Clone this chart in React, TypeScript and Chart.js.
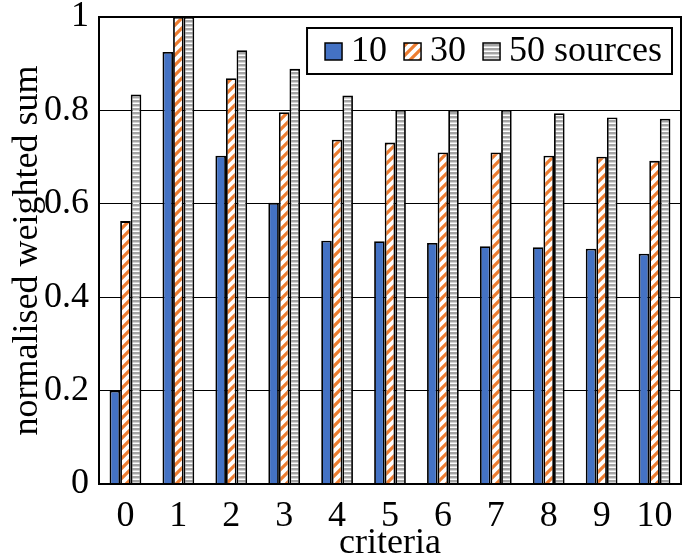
import React, { useEffect, useRef } from "react";
import { Chart, registerables } from "chart.js";

Chart.register(...registerables);

const categories = ["0", "1", "2", "3", "4", "5", "6", "7", "8", "9", "10"];
const seriesLabels = ["10", "30", "50 sources"];
const s10 = [0.2, 0.925, 0.703, 0.602, 0.521, 0.52, 0.516, 0.509, 0.507, 0.504, 0.493];
const s30 = [0.563, 1.0, 0.869, 0.796, 0.737, 0.731, 0.71, 0.71, 0.703, 0.701, 0.692];
const s50 = [0.834, 1.0, 0.929, 0.889, 0.832, 0.801, 0.801, 0.801, 0.794, 0.785, 0.782];
const yTickLabels = ["0", "0.2", "0.4", "0.6", "0.8", "1"];

const FONT = "'Liberation Serif', 'Times New Roman', serif";
const BLUE = "#4472C4";
const ORANGE = "#ED7D31";
const GRAY = "#A5A5A5";

function makeDiagonal(): CanvasPattern | string {
  const c = document.createElement("canvas");
  c.width = 10;
  c.height = 10;
  const g = c.getContext("2d");
  if (!g) return ORANGE;
  g.fillStyle = "#fff";
  g.fillRect(0, 0, 10, 10);
  g.strokeStyle = ORANGE;
  g.lineWidth = 3.2;
  g.lineCap = "square";
  for (const [x1, y1, x2, y2] of [
    [-5, 5, 5, -5],
    [0, 10, 10, 0],
    [5, 15, 15, 5],
  ]) {
    g.beginPath();
    g.moveTo(x1, y1);
    g.lineTo(x2, y2);
    g.stroke();
  }
  const p = g.createPattern(c, "repeat");
  return p || ORANGE;
}

function makeHorizontal(): CanvasPattern | string {
  const c = document.createElement("canvas");
  c.width = 4;
  c.height = 4;
  const g = c.getContext("2d");
  if (!g) return GRAY;
  g.fillStyle = "#fff";
  g.fillRect(0, 0, 4, 4);
  g.fillStyle = GRAY;
  g.fillRect(0, 0, 4, 2);
  g.fillStyle = "#D4D4D4";
  g.fillRect(0, 2, 4, 1);
  const p = g.createPattern(c, "repeat");
  return p || GRAY;
}

const framePlugin = {
  id: "frame",
  afterDatasetsDraw(chart: any) {
    const { ctx, chartArea } = chart;
    ctx.save();
    ctx.strokeStyle = "#000";
    ctx.lineWidth = 2;
    ctx.strokeRect(chartArea.left, chartArea.top, chartArea.right - chartArea.left, chartArea.bottom - chartArea.top);
    ctx.restore();
  },
};

const legendPlugin = {
  id: "boxLegend",
  afterDraw(chart: any) {
    const { ctx, chartArea } = chart;
    const ds = chart.data.datasets;
    ctx.save();
    ctx.font = `36px ${FONT}`;
    const sw = 17;
    const gapSw = 9;
    const gapItem = 17;
    const padL = 18;
    const padR = 10;
    let total = padL;
    ds.forEach((d: any, i: number) => {
      total += sw + gapSw + ctx.measureText(d.label).width;
      if (i < ds.length - 1) total += gapItem;
    });
    total += padR;
    const right = chartArea.right - 9;
    const left = right - total;
    const top = chartArea.top + 11;
    const h = 46;
    ctx.fillStyle = "#fff";
    ctx.fillRect(left, top, total, h);
    ctx.strokeStyle = "#000";
    ctx.lineWidth = 2;
    ctx.strokeRect(left, top, total, h);
    let x = left + padL;
    const baseline = top + 33;
    ds.forEach((d: any) => {
      const sy = top + 15;
      ctx.fillStyle = d.backgroundColor;
      ctx.fillRect(x, sy, sw, sw);
      ctx.lineWidth = 1.5;
      ctx.strokeStyle = "#000";
      ctx.strokeRect(x, sy, sw, sw);
      ctx.fillStyle = "#000";
      ctx.textBaseline = "alphabetic";
      ctx.textAlign = "left";
      const tx = x + sw + gapSw;
      ctx.fillText(d.label, tx, baseline);
      x = tx + ctx.measureText(d.label).width + gapItem;
    });
    ctx.restore();
  },
};

export default function App() {
  const ref = useRef<HTMLCanvasElement | null>(null);
  useEffect(() => {
    if (!ref.current) return;
    const diag = makeDiagonal();
    const horiz = makeHorizontal();
    const common = { borderColor: "#000", borderWidth: 1.8, barPercentage: 1.0, categoryPercentage: 0.6 };
    const chart = new Chart(ref.current, {
      type: "bar",
      data: {
        labels: categories,
        datasets: [
          { label: seriesLabels[0], data: s10, backgroundColor: BLUE, ...common },
          { label: seriesLabels[1], data: s30, backgroundColor: diag as any, ...common },
          { label: seriesLabels[2], data: s50, backgroundColor: horiz as any, ...common },
        ],
      },
      options: {
        animation: false,
        responsive: false,
        devicePixelRatio: 1,
        layout: { padding: { left: 3, right: 4, top: 17, bottom: -6 } },
        plugins: { legend: { display: false }, tooltip: { enabled: false } },
        scales: {
          x: {
            grid: { display: false, drawTicks: false },
            border: { display: true, color: "#000", width: 2 },
            ticks: { color: "#000", padding: 11, font: { family: FONT, size: 36, lineHeight: 1.2 } },
            title: {
              display: true,
              text: "criteria",
              color: "#000",
              font: { family: FONT, size: 36, lineHeight: 1 },
              padding: { top: 0, bottom: 0 },
            },
            afterFit: (scale: any) => {
              scale.height = 78;
            },
          },
          y: {
            min: 0,
            max: 1,
            grid: { color: "#000", lineWidth: 1, drawTicks: false },
            border: { display: true, color: "#000", width: 2 },
            ticks: {
              stepSize: 0.2,
              color: "#000",
              padding: 10,
              font: { family: FONT, size: 36, lineHeight: 0.3 },
              callback: (_v: any, i: number) => yTickLabels[i],
            },
            title: {
              display: true,
              text: "normalised weighted sum",
              color: "#000",
              font: { family: FONT, size: 36, lineHeight: 1 },
              padding: { top: 7, bottom: 0 },
            },
            afterFit: (scale: any) => {
              scale.width = 96;
            },
          },
        },
      },
      plugins: [framePlugin, legendPlugin],
    });
    return () => chart.destroy();
  }, []);
  return (
    <div style={{ position: "fixed", left: 0, top: 0, width: 685, height: 556, background: "#fff" }}>
      <canvas ref={ref} width={685} height={556} style={{ display: "block" }} />
    </div>
  );
}
